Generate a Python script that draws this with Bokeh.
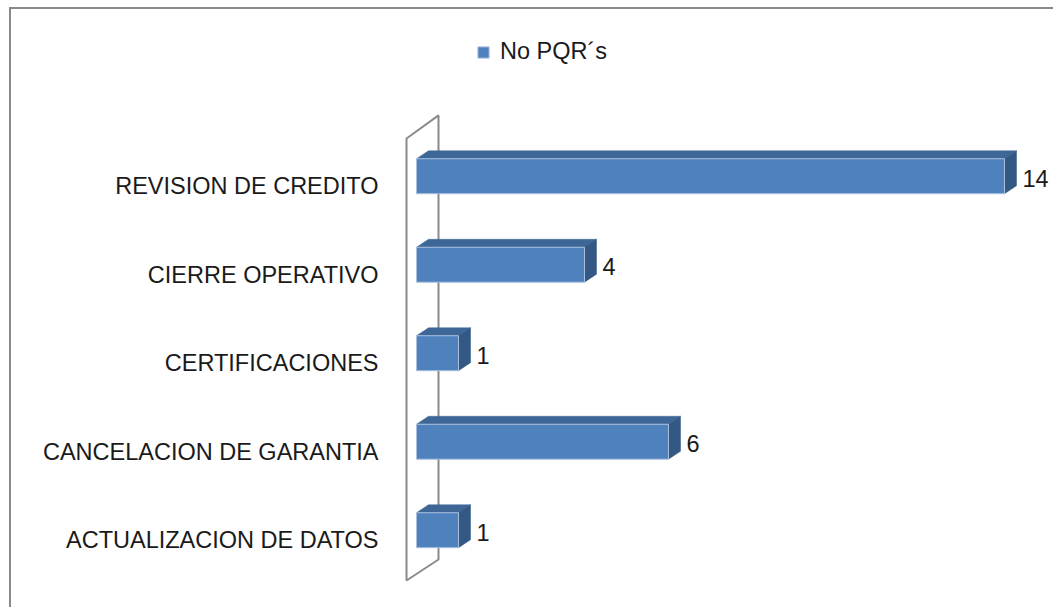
from bokeh.plotting import figure
from bokeh.models import ColumnDataSource, Legend, LegendItem, FixedTicker, Range1d
from bokeh.embed import file_html
from bokeh.resources import INLINE
from bokeh.core.properties import value

# ---- data ----
categories = ["ACTUALIZACION DE DATOS", "CANCELACION DE GARANTIA", "CERTIFICACIONES",
              "CIERRE OPERATIVO", "REVISION DE CREDITO"]
counts = [1, 6, 1, 4, 14]
series_name = "No PQR´s"

# ---- geometry (data units) ----
FONT = "Liberation Sans"
FS = "23.5px"
BAR_SHIFT = 0.113   # bars sit slightly above their category label
BAR_H = 0.395
DX, DY = 0.286, 0.090      # 3D depth of bars
WDX, WDY = 0.762, 0.25     # 3D depth of back wall
n = len(categories)
pos = list(range(n))

p = figure(width=1044, height=600, output_backend="svg", toolbar_location=None,
           x_range=Range1d(-0.381, 15.048), y_range=Range1d(-0.636, 5.997),
           min_border_left=389, min_border_right=7, min_border_top=0, min_border_bottom=13)
p.styles = {"margin-left": "9px", "margin-top": "7px",
            "border-left": "2px solid #8a8a8a", "border-top": "2px solid #8a8a8a"}
p.outline_line_color = None
p.xgrid.visible = False
p.ygrid.visible = False
p.xaxis.visible = False
p.background_fill_color = "white"
p.border_fill_color = "white"

# back wall
wx0 = -0.238
wy0, wy1 = -0.455, n - 0.46
p.patch(x=[wx0, wx0, wx0 + WDX, wx0 + WDX],
        y=[wy0, wy1, wy1 + WDY + 0.01, wy0 + 0.2375],
        fill_color="white", line_color="#8a8a8a", line_width=2)

bar_y = [i + BAR_SHIFT for i in pos]
tops = [y + BAR_H / 2 for y in bar_y]
bots = [y - BAR_H / 2 for y in bar_y]

top_xs = [[0, v, v + DX, DX] for v in counts]
top_ys = [[t, t, t + DY, t + DY] for t in tops]
side_xs = [[v, v + DX, v + DX, v] for v in counts]
side_ys = [[b, b + DY, t + DY, t] for b, t in zip(bots, tops)]

p.patches(xs=top_xs, ys=top_ys, fill_color="#3E6696", line_color="#3E6696", line_width=0.5)
p.patches(xs=side_xs, ys=side_ys, fill_color="#335884", line_color="#335884", line_width=0.5)

src = ColumnDataSource(dict(y=bar_y, right=counts, label=[str(c) for c in counts]))
front = p.hbar(y="y", left=0, right="right", height=BAR_H, source=src,
               fill_color="#4F81BD", line_color="#A9C0DF", line_width=1)

p.text(x="right", y="y", text="label", source=src, x_offset=18, y_offset=2,
       text_baseline="middle", text_align="left", text_font=value(FONT),
       text_font_size=FS, text_color="#1a1a1a")

# category axis
yax = p.yaxis[0]
yax.ticker = FixedTicker(ticks=pos)
yax.major_label_overrides = {i: c for i, c in zip(pos, categories)}
yax.axis_line_color = None
yax.major_tick_line_color = None
yax.minor_tick_line_color = None
yax.major_tick_out = 0
yax.major_tick_in = 0
yax.major_label_standoff = 22
yax.major_label_text_font = FONT
yax.major_label_text_font_size = FS
yax.major_label_text_color = "#1a1a1a"

legend = Legend(items=[LegendItem(label=series_name, renderers=[front])],
                location=(76, 531), orientation="horizontal",
                border_line_color=None, background_fill_alpha=0,
                padding=0, margin=0, spacing=0,
                glyph_width=14, glyph_height=14, label_standoff=10,
                label_text_font=FONT, label_text_font_size=FS,
                label_text_color="#1a1a1a", label_height=20)
p.add_layout(legend, "center")

open("out.html", "w").write(file_html(p, INLINE))
